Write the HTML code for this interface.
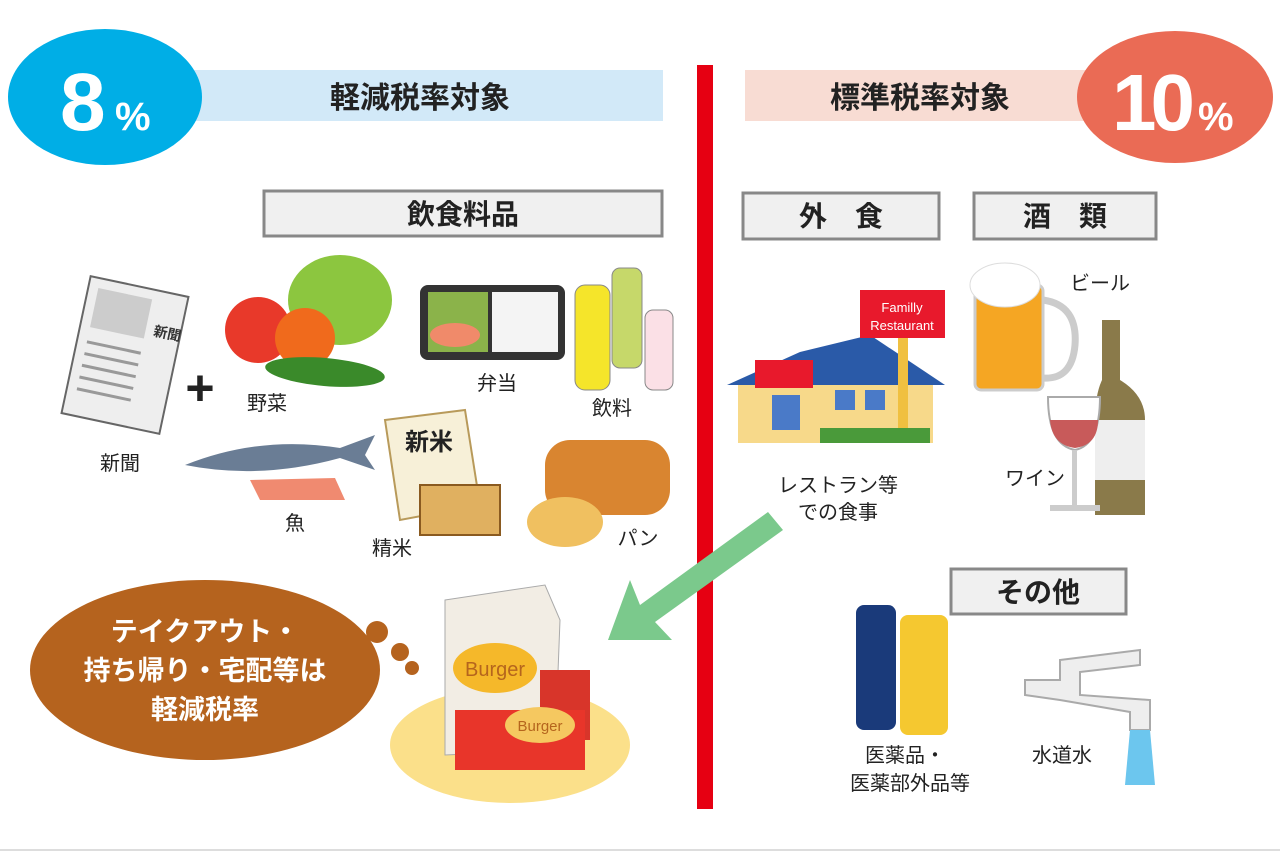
<!DOCTYPE html>
<html><head><meta charset="utf-8"><style>
body{margin:0;width:1280px;height:853px;background:#fff;overflow:hidden;font-family:"Liberation Sans","Noto Sans CJK JP",sans-serif}
</style></head><body>
<svg width="1280" height="853" viewBox="0 0 1280 853" xmlns="http://www.w3.org/2000/svg" font-family="Liberation Sans, Noto Sans CJK JP, sans-serif">
<rect x="190" y="70" width="473" height="51" fill="#d2e9f8"/>
<ellipse cx="105" cy="97" rx="97" ry="68" fill="#00aee6"/>
<text x="60" y="130" font-size="82" font-weight="bold" fill="#fff">8</text>
<text x="115" y="130" font-size="40" font-weight="bold" fill="#fff">%</text>
<text x="420" y="108" font-size="30" font-weight="bold" fill="#222" text-anchor="middle">軽減税率対象</text>
<rect x="745" y="70" width="345" height="51" fill="#f8dcd3"/>
<ellipse cx="1175" cy="97" rx="98" ry="66" fill="#ea6b55"/>
<text x="1112" y="130" font-size="80" font-weight="bold" fill="#fff" letter-spacing="-6">10</text>
<text x="1198" y="130" font-size="40" font-weight="bold" fill="#fff">%</text>
<text x="920" y="108" font-size="30" font-weight="bold" fill="#222" text-anchor="middle">標準税率対象</text>
<rect x="697" y="65" width="16" height="744" fill="#e60012"/>
<line x1="0" y1="850" x2="1280" y2="850" stroke="#ddd" stroke-width="2"/>
<g fill="#f0f0f0" stroke="#888" stroke-width="3">
<rect x="264" y="191" width="398" height="45"/>
<rect x="743" y="193" width="196" height="46"/>
<rect x="974" y="193" width="182" height="46"/>
<rect x="951" y="569" width="175" height="45"/>
</g>
<g font-size="28" font-weight="bold" fill="#222" text-anchor="middle">
<text x="463" y="224">飲食料品</text>
<text x="841" y="226">外　食</text>
<text x="1065" y="226">酒　類</text>
<text x="1038" y="602">その他</text>
</g>
<g transform="rotate(12 125 355)"><rect x="75" y="285" width="100" height="140" fill="#eee" stroke="#666" stroke-width="2"/>
<rect x="85" y="295" width="55" height="40" fill="#ccc"/><g stroke="#999" stroke-width="3"><line x1="85" y1="350" x2="140" y2="350"/><line x1="85" y1="362" x2="140" y2="362"/><line x1="85" y1="374" x2="140" y2="374"/><line x1="85" y1="386" x2="140" y2="386"/><line x1="85" y1="398" x2="140" y2="398"/></g>
<text x="148" y="330" font-size="14" font-weight="bold" fill="#333">新聞</text></g>
<text x="200" y="405" font-size="50" font-weight="bold" fill="#222" text-anchor="middle">+</text>
<ellipse cx="340" cy="300" rx="52" ry="45" fill="#8cc63f"/>
<circle cx="258" cy="330" r="33" fill="#e8392a"/><circle cx="305" cy="338" r="30" fill="#f06a1c"/>
<ellipse cx="325" cy="372" rx="60" ry="14" fill="#3a8a2a" transform="rotate(5 325 372)"/>
<rect x="420" y="285" width="145" height="75" rx="8" fill="#333"/>
<rect x="428" y="292" width="60" height="60" fill="#8bb34a"/><rect x="492" y="292" width="66" height="60" fill="#f4f4f4"/>
<ellipse cx="455" cy="335" rx="25" ry="12" fill="#f08a6a"/>
<rect x="575" y="285" width="35" height="105" rx="10" fill="#f5e52a" stroke="#888"/>
<rect x="612" y="268" width="30" height="100" rx="8" fill="#c6d86a" stroke="#888"/>
<rect x="645" y="310" width="28" height="80" rx="8" fill="#fbe0e6" stroke="#888"/>
<path d="M185 465 Q260 435 340 448 L375 435 L365 455 L375 470 L340 458 Q260 480 185 465Z" fill="#6a7d95"/>
<path d="M250 480 L335 478 L345 500 L260 500Z" fill="#f08a70"/>
<path d="M385 420 L465 410 L480 505 L400 520Z" fill="#f7f0d8" stroke="#b89a5a" stroke-width="2"/>
<text x="405" y="450" font-size="24" font-weight="bold" fill="#222">新米</text>
<rect x="420" y="485" width="80" height="50" fill="#e0b060" stroke="#8a5a20" stroke-width="2"/>
<rect x="545" y="440" width="125" height="75" rx="25" fill="#d98530"/>
<ellipse cx="565" cy="522" rx="38" ry="25" fill="#f0c060"/>
<g font-size="20" fill="#222" text-anchor="middle">
<text x="120" y="470">新聞</text><text x="267" y="410">野菜</text><text x="497" y="390">弁当</text><text x="612" y="415">飲料</text>
<text x="295" y="530">魚</text><text x="392" y="555">精米</text><text x="638" y="545">パン</text>
<text x="838" y="492">レストラン等</text><text x="838" y="519">での食事</text>
<text x="1100" y="290">ビール</text><text x="1035" y="485">ワイン</text>
<text x="905" y="762">医薬品・</text><text x="910" y="790">医薬部外品等</text><text x="1062" y="762">水道水</text>
</g>
<path d="M727 385 L800 352 L870 335 L945 385Z" fill="#2a5aa8"/>
<rect x="738" y="385" width="195" height="58" fill="#f7d98a"/>
<rect x="860" y="290" width="85" height="48" fill="#e8192c"/>
<text x="902" y="312" font-size="13" fill="#fff" text-anchor="middle">Familly</text>
<text x="902" y="330" font-size="13" fill="#fff" text-anchor="middle">Restaurant</text>
<rect x="898" y="338" width="10" height="95" fill="#f0c040"/>
<rect x="755" y="360" width="58" height="28" fill="#e8192c"/>
<g fill="#4a7ac8"><rect x="835" y="390" width="20" height="20"/><rect x="865" y="390" width="20" height="20"/><rect x="772" y="395" width="28" height="35"/></g>
<rect x="820" y="428" width="110" height="15" fill="#4a9a3a"/>
<path d="M768 512 L640 605 L630 580 L608 640 L672 640 L655 622 L783 530Z" fill="#7bc98c"/>
<rect x="975" y="285" width="68" height="105" rx="6" fill="#f5a623" stroke="#ccc" stroke-width="3"/>
<ellipse cx="1005" cy="285" rx="35" ry="22" fill="#fff" stroke="#ddd"/>
<path d="M1043 300 Q1078 305 1075 345 Q1072 380 1043 378" fill="none" stroke="#ccc" stroke-width="7"/>
<path d="M1102 320 L1120 320 L1120 380 Q1145 395 1145 420 L1145 515 L1095 515 L1095 420 Q1095 395 1102 380Z" fill="#8a7a4a"/>
<rect x="1095" y="420" width="50" height="60" fill="#eee"/>
<path d="M1048 397 Q1048 445 1075 450 Q1100 445 1100 397Z" fill="#fff" stroke="#aaa" stroke-width="2"/>
<path d="M1050 420 Q1052 445 1075 448 Q1098 445 1098 420Z" fill="#c85a5a"/>
<rect x="1072" y="450" width="5" height="55" fill="#ccc"/><rect x="1050" y="505" width="50" height="6" fill="#ccc"/>
<rect x="856" y="605" width="40" height="125" rx="8" fill="#1a3a7a"/>
<rect x="900" y="615" width="48" height="120" rx="8" fill="#f5c830"/>
<path d="M1025 680 L1060 680 L1060 660 L1140 650 L1140 665 L1080 672 L1080 695 L1150 700 L1150 730 L1130 730 L1130 712 L1060 700 L1025 695Z" fill="#eee" stroke="#aaa" stroke-width="2"/>
<path d="M1130 730 L1150 730 L1155 785 L1125 785Z" fill="#6cc6ee"/>
<ellipse cx="510" cy="745" rx="120" ry="58" fill="#fbe08a"/>
<path d="M445 600 L545 585 L560 620 L555 750 L445 755Z" fill="#f2ede4" stroke="#aaa"/>
<ellipse cx="495" cy="668" rx="42" ry="25" fill="#f5b82a"/>
<text x="495" y="676" font-size="20" fill="#b5651d" text-anchor="middle">Burger</text>
<rect x="540" y="670" width="50" height="70" fill="#d8352a"/>
<rect x="455" y="710" width="130" height="60" fill="#e8352a"/>
<ellipse cx="540" cy="725" rx="35" ry="18" fill="#f5c860"/>
<text x="540" y="731" font-size="15" fill="#b5651d" text-anchor="middle">Burger</text>
<ellipse cx="205" cy="670" rx="175" ry="90" fill="#b5631e"/>
<circle cx="377" cy="632" r="11" fill="#b5631e"/><circle cx="400" cy="652" r="9" fill="#b5631e"/><circle cx="412" cy="668" r="7" fill="#b5631e"/>
<g font-size="27" font-weight="bold" fill="#fff" text-anchor="middle">
<text x="205" y="641">テイクアウト・</text>
<text x="205" y="680">持ち帰り・宅配等は</text>
<text x="205" y="719">軽減税率</text>
</g>
</svg>
</body></html>
